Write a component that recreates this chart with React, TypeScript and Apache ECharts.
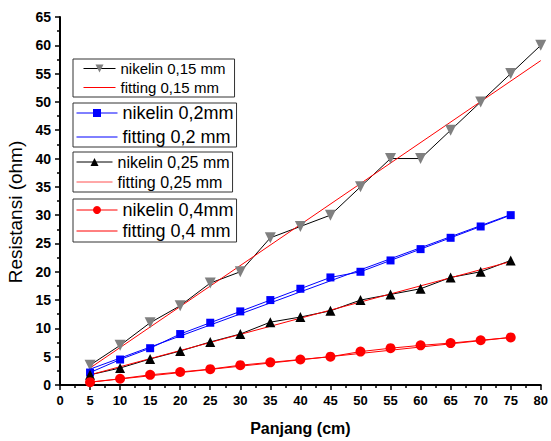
import React, { useEffect, useRef } from "react";
import * as echarts from "echarts";

const xTicksMax = 80;
const yTicksMax = 65;

const x15 = [5, 10, 15, 20, 25, 30, 35, 40, 45, 50, 55, 60, 65, 70, 75, 80];
const nikelin015 = [3.5, 7, 11, 14, 18, 20, 26, 28, 30, 35, 40, 40, 45, 50, 55, 60];
const fit015: [number, number][] = [[5, 3.0], [80, 57.3]];

const x20 = [5, 10, 15, 20, 25, 30, 35, 40, 45, 50, 55, 60, 65, 70, 75];
const nikelin020 = [2.2, 4.5, 6.5, 9, 11, 13, 15, 17, 19, 20, 22, 24, 26, 28, 30];
const fit020: [number, number][] = [[5, 2.8], [75, 30.1]];

const nikelin025 = [1.8, 3, 4.6, 6, 7.6, 9, 11.1, 12, 13.1, 15, 16, 17, 19, 20, 22];
const fit025: [number, number][] = [[5, 1.8], [75, 21.8]];

const nikelin040 = [0.5, 1.1, 1.8, 2.3, 2.8, 3.5, 4, 4.5, 5, 5.9, 6.5, 7, 7.4, 7.9, 8.4];
const fit040: [number, number][] = [[5, 0.5], [75, 8.4]];

const names = {
  n015: "nikelin 0,15 mm",
  f015: "fitting 0,15 mm",
  n020: "nikelin 0,2mm",
  f020: "fitting 0,2 mm",
  n025: "nikelin 0,25 mm",
  f025: "fitting 0,25 mm",
  n040: "nikelin 0,4mm",
  f040: "fitting 0,4 mm",
};

const FONT = "'Liberation Sans', Arial, sans-serif";

const pair = (xs: number[], ys: number[]) => xs.map((x, i) => [x, ys[i]]);

export default function App() {
  const ref = useRef<HTMLDivElement>(null);
  useEffect(() => {
    if (!ref.current) return;
    const chart = echarts.init(ref.current, undefined, { renderer: "svg" });
    const fitItem = (name: string, color: string) => ({
      name,
      itemStyle: { opacity: 0 },
      lineStyle: { color, width: 1 },
    });
    const legendBase = {
      orient: "vertical" as const,
      left: 73,
      borderColor: "#333",
      borderWidth: 1,
      selectedMode: false,
      itemHeight: 10,
      lineStyle: { width: 1 },
    };
    chart.setOption({
      animation: false,
      backgroundColor: "#fff",
      textStyle: { fontFamily: FONT },
      grid: { left: 60, right: 7, top: 17, bottom: 54 },
      legend: [
        {
          ...legendBase,
          top: 59,
          padding: [2, 9, 2, 10],
          itemWidth: 32,
          itemGap: 4,
          textStyle: { fontSize: 15, lineHeight: 14, color: "#000", fontFamily: FONT },
          data: [names.n015, fitItem(names.f015, "#ff0000")],
        },
        {
          ...legendBase,
          top: 103,
          padding: [1, 3, 1, 3],
          itemWidth: 41,
          itemGap: 6,
          textStyle: { fontSize: 18, lineHeight: 18, color: "#000", fontFamily: FONT },
          data: [names.n020, fitItem(names.f020, "#0000ff")],
        },
        {
          ...legendBase,
          top: 152,
          padding: [2, 3, 2, 3],
          itemWidth: 36,
          itemGap: 4,
          textStyle: { fontSize: 16, lineHeight: 16, color: "#000", fontFamily: FONT },
          data: [names.n025, fitItem(names.f025, "#ff5050")],
        },
        {
          ...legendBase,
          top: 199,
          padding: [2, 3, 2, 3],
          itemWidth: 41,
          itemGap: 3,
          textStyle: { fontSize: 18, lineHeight: 18, color: "#000", fontFamily: FONT },
          data: [names.n040, fitItem(names.f040, "#ff0000")],
        },
      ],
      xAxis: {
        type: "value",
        min: 0,
        max: xTicksMax,
        interval: 5,
        name: "Panjang (cm)",
        nameLocation: "middle",
        nameGap: 35,
        nameTextStyle: { fontSize: 16, fontWeight: "bold", color: "#000", fontFamily: FONT },
        axisLine: { show: true, onZero: false, lineStyle: { color: "#000", width: 2 } },
        axisTick: { show: true, inside: false, length: 5, lineStyle: { color: "#000", width: 1.5 } },
        minorTick: { show: true, splitNumber: 2, length: 3, lineStyle: { color: "#000", width: 1.5 } },
        axisLabel: { fontSize: 13, fontWeight: "bold", color: "#000", margin: 9, fontFamily: FONT },
        splitLine: { show: false },
      },
      yAxis: {
        type: "value",
        min: 0,
        max: yTicksMax,
        interval: 5,
        axisLine: { show: true, onZero: false, lineStyle: { color: "#000", width: 2 } },
        axisTick: { show: true, inside: false, length: 5, lineStyle: { color: "#000", width: 1.5 } },
        minorTick: { show: true, splitNumber: 2, length: 3, lineStyle: { color: "#000", width: 1.5 } },
        axisLabel: { fontSize: 14, fontWeight: "bold", color: "#000", margin: 9, fontFamily: FONT },
        splitLine: { show: false },
      },
      graphic: [
        {
          type: "text",
          x: 15,
          y: 212,
          rotation: Math.PI / 2,
          style: {
            text: "Resistansi (ohm)",
            fontSize: 19,
            fontFamily: FONT,
            fill: "#000",
            align: "center",
            verticalAlign: "middle",
            textAlign: "center",
            textVerticalAlign: "middle",
          },
        },
      ],
      series: [
        {
          name: names.n015,
          type: "line",
          data: pair(x15, nikelin015),
          symbol: "triangle",
          symbolRotate: 180,
          symbolSize: 11,
          itemStyle: { color: "#808080" },
          lineStyle: { color: "#000", width: 1 },
        },
        {
          name: names.n020,
          type: "line",
          data: pair(x20, nikelin020),
          symbol: "rect",
          symbolSize: 8,
          itemStyle: { color: "#0000ff" },
          lineStyle: { color: "#0000ff", width: 1 },
        },
        {
          name: names.n025,
          type: "line",
          data: pair(x20, nikelin025),
          symbol: "triangle",
          symbolSize: 10,
          itemStyle: { color: "#000" },
          lineStyle: { color: "#000", width: 1 },
        },
        {
          name: names.n040,
          type: "line",
          data: pair(x20, nikelin040),
          symbol: "circle",
          symbolSize: 10,
          itemStyle: { color: "#ff0000" },
          lineStyle: { color: "#ff0000", width: 1 },
        },
        {
          name: names.f015,
          type: "line",
          data: fit015,
          symbol: "circle",
          showSymbol: false,
          itemStyle: { color: "#ff0000" },
          lineStyle: { color: "#ff0000", width: 1 },
        },
        {
          name: names.f020,
          type: "line",
          data: fit020,
          symbol: "circle",
          showSymbol: false,
          itemStyle: { color: "#0000ff" },
          lineStyle: { color: "#0000ff", width: 1 },
        },
        {
          name: names.f025,
          type: "line",
          data: fit025,
          symbol: "circle",
          showSymbol: false,
          itemStyle: { color: "#ff0000" },
          lineStyle: { color: "#ff0000", width: 1 },
        },
        {
          name: names.f040,
          type: "line",
          data: fit040,
          symbol: "circle",
          showSymbol: false,
          itemStyle: { color: "#ff0000" },
          lineStyle: { color: "#ff0000", width: 1 },
        },
      ],
    });
    return () => chart.dispose();
  }, []);
  return (
    <div
      ref={ref}
      style={{ position: "absolute", left: 0, top: 0, width: 551, height: 441 }}
    />
  );
}
